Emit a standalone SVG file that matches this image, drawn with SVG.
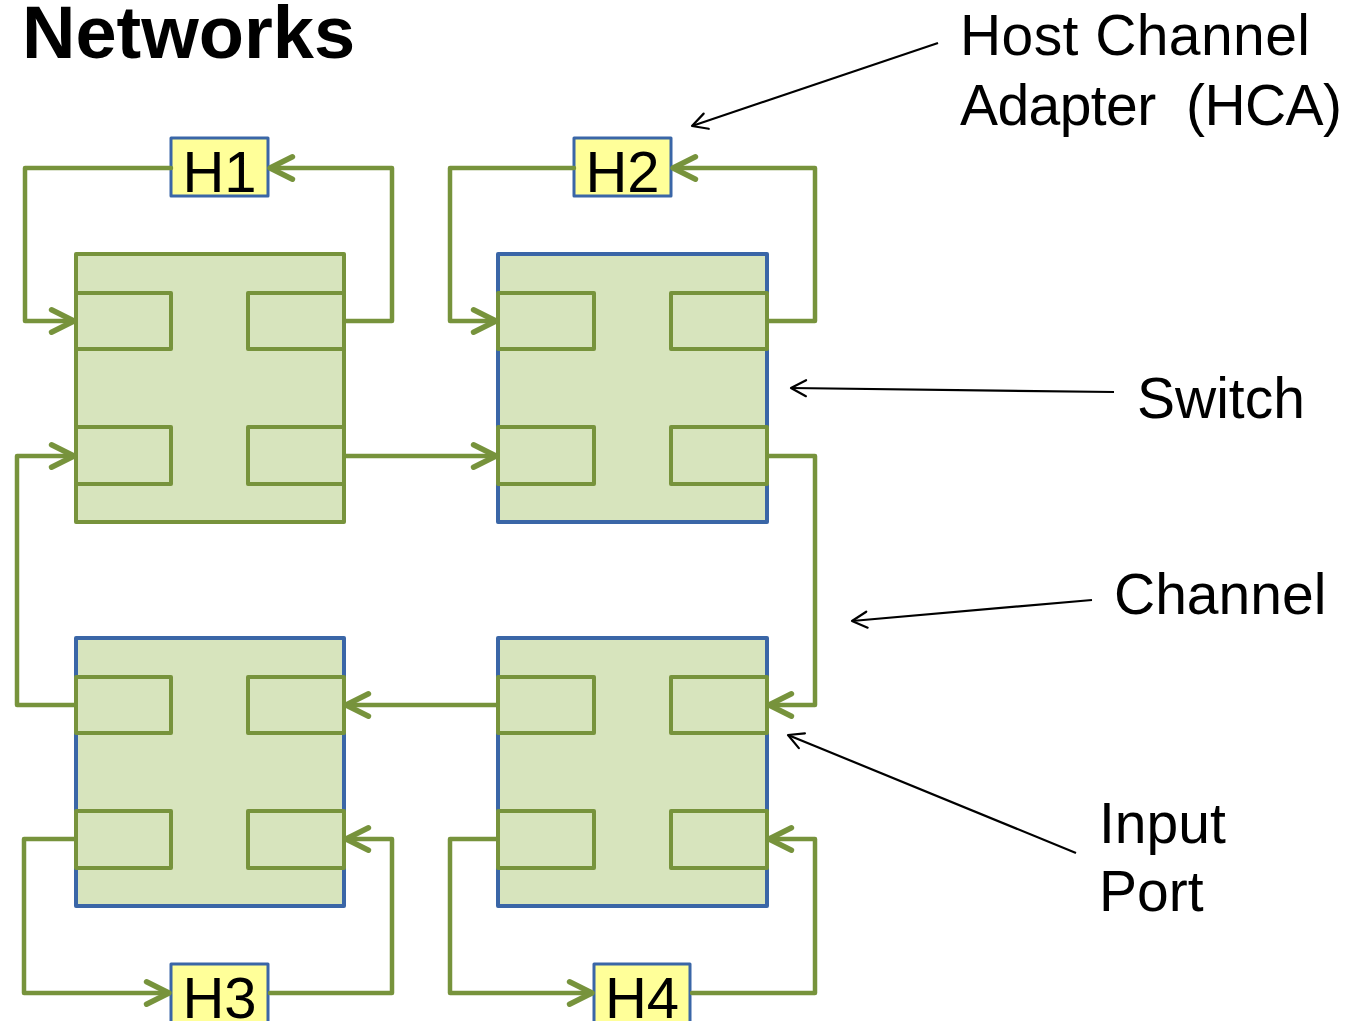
<svg xmlns="http://www.w3.org/2000/svg" width="1356" height="1021" viewBox="0 0 1356 1021">
<defs>
<style>
.sw{fill:#D7E4BD;stroke:#3A66A7;stroke-width:4;stroke-linejoin:round}
.swg{fill:#D7E4BD;stroke:#77933C;stroke-width:4;stroke-linejoin:round}
.port{fill:#D7E4BD;stroke:#77933C;stroke-width:4;stroke-linejoin:round}
.hca{fill:#FFFF99;stroke:#3A66A7;stroke-width:3;stroke-linejoin:round}
.hl{font-family:"Liberation Sans",Arial,sans-serif;font-size:58px;fill:#000;text-anchor:middle}
.lbl{font-family:"Liberation Sans",Arial,sans-serif;font-size:57px;fill:#000}
.ch{fill:none;stroke:#77933C;stroke-width:4.5;stroke-linejoin:round;stroke-linecap:round;marker-end:url(#ga)}
.an{fill:none;stroke:#000;stroke-width:2.2;marker-end:url(#ba)}
</style>
<marker id="ga" markerUnits="userSpaceOnUse" markerWidth="30" markerHeight="30" viewBox="-24 -14 28 28" refX="0" refY="0" orient="auto" overflow="visible">
<path d="M-21,-10.5 L0,0 L-21,10.5" fill="none" stroke="#77933C" stroke-width="5" stroke-linecap="round" stroke-linejoin="round"/>
</marker>
<marker id="ba" markerUnits="userSpaceOnUse" markerWidth="24" markerHeight="24" viewBox="-20 -12 24 24" refX="0" refY="0" orient="auto" overflow="visible">
<path d="M-15,-8 L0,0 L-15,8" fill="none" stroke="#000" stroke-width="2.2" stroke-linecap="round" stroke-linejoin="round"/>
</marker>
</defs>
<rect width="1356" height="1021" fill="#fff"/>
<text x="22" y="58" font-family="Liberation Sans,Arial,sans-serif" font-size="74" font-weight="bold">Networks</text>

<g id="switch-tl">
<rect class="swg" x="76" y="254" width="268" height="268"/>
<rect class="port" x="76" y="293" width="95" height="56"/>
<rect class="port" x="248" y="293" width="96" height="56"/>
<rect class="port" x="76" y="427" width="95" height="57"/>
<rect class="port" x="248" y="427" width="96" height="57"/>
</g>
<g id="switch-tr">
<rect class="sw" x="498" y="254" width="269" height="268"/>
<rect class="port" x="498" y="293" width="96" height="56"/>
<rect class="port" x="671" y="293" width="96" height="56"/>
<rect class="port" x="498" y="427" width="96" height="57"/>
<rect class="port" x="671" y="427" width="96" height="57"/>
</g>
<g id="switch-bl">
<rect class="sw" x="76" y="638" width="268" height="268"/>
<rect class="port" x="76" y="677" width="95" height="56"/>
<rect class="port" x="248" y="677" width="96" height="56"/>
<rect class="port" x="76" y="811" width="95" height="57"/>
<rect class="port" x="248" y="811" width="96" height="57"/>
</g>
<g id="switch-br">
<rect class="sw" x="498" y="638" width="269" height="268"/>
<rect class="port" x="498" y="677" width="96" height="56"/>
<rect class="port" x="671" y="677" width="96" height="56"/>
<rect class="port" x="498" y="811" width="96" height="57"/>
<rect class="port" x="671" y="811" width="96" height="57"/>
</g>

<g id="h1"><rect class="hca" x="171" y="138" width="97" height="58"/><text class="hl" x="219.5" y="192">H1</text></g>
<g id="h2"><rect class="hca" x="574" y="138" width="97" height="58"/><text class="hl" x="622.5" y="192">H2</text></g>
<g id="h3"><rect class="hca" x="171" y="964" width="97" height="62"/><text class="hl" x="219.5" y="1018">H3</text></g>
<g id="h4"><rect class="hca" x="594" y="964" width="96" height="62"/><text class="hl" x="642" y="1018">H4</text></g>

<g id="connectors">
<path class="ch" d="M171,168 H25 V321 H74"/>
<path class="ch" d="M346,321 H392 V168 H270"/>
<path class="ch" d="M574,168 H450 V321 H496"/>
<path class="ch" d="M769,321 H815 V168 H673"/>
<path class="ch" d="M346,456 H496"/>
<path class="ch" d="M769,456 H815 V705 H769"/>
<path class="ch" d="M496,705 H346"/>
<path class="ch" d="M74,705 H17 V456 H74"/>
<path class="ch" d="M74,839 H24 V993 H169"/>
<path class="ch" d="M270,993 H392 V839 H346"/>
<path class="ch" d="M496,839 H450 V993 H592"/>
<path class="ch" d="M692,993 H815 V839 H769"/>
<path class="an" d="M938,43 L692,126"/>
<path class="an" d="M1114,392 L791,388"/>
<path class="an" d="M1092,600 L852,621"/>
<path class="an" d="M1076,853 L788,735"/>
</g>

<text class="lbl" x="960" y="55" font-size="58" textLength="350">Host Channel</text>
<text class="lbl" x="960" y="125" font-size="58" xml:space="preserve" textLength="382">Adapter  (HCA)</text>
<text class="lbl" x="1137" y="418">Switch</text>
<text class="lbl" x="1114" y="614">Channel</text>
<text class="lbl" x="1099" y="843">Input</text>
<text class="lbl" x="1099" y="911">Port</text>
</svg>
